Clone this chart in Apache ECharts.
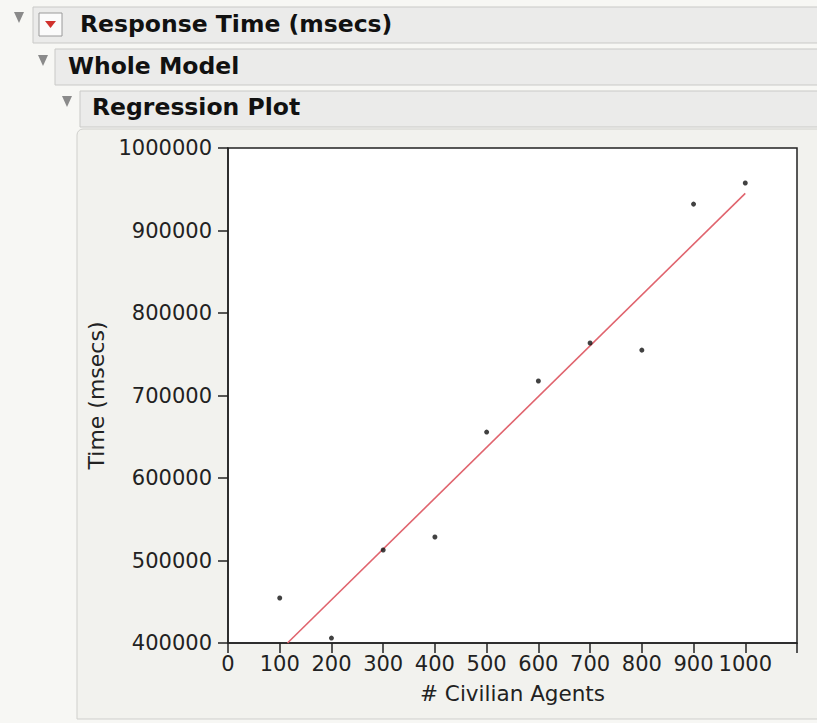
<!DOCTYPE html>
<html>
<head>
<meta charset="utf-8">
<script src="https://cdn.jsdelivr.net/npm/echarts@6/dist/echarts.min.js"></script>
<style>
html,body{margin:0;padding:0;background:#f7f7f4;}
#chart{width:817px;height:723px;}
</style>
</head>
<body>
<div id="chart"></div>
<script>
// Data
var agents = [100, 200, 300, 400, 500, 600, 700, 800, 900, 1000];
var timeMsecs = [454500, 406000, 512700, 528500, 655700, 717600, 763600, 755000, 932000, 957600];
// Fitted regression line endpoints
var fitX = [115, 1000];
var fitY = [400000, 945000];
var xTicks = [0, 100, 200, 300, 400, 500, 600, 700, 800, 900, 1000];
var yTicks = [400000, 500000, 600000, 700000, 800000, 900000, 1000000];
var titles = ['Response Time (msecs)', 'Whole Model', 'Regression Plot'];

var points = agents.map(function (a, i) { return [a, timeMsecs[i]]; });
var fitLine = fitX.map(function (a, i) { return [a, fitY[i]]; });

var chart = echarts.init(document.getElementById('chart'), null, {renderer: 'svg'});

var hdrFont = 'bold 23.5px "DejaVu Sans"';
function bar(x, y, w, h) {
  return {type: 'rect', shape: {x: x, y: y, width: w, height: h},
    style: {fill: '#ebebea', stroke: '#c9c9c7', lineWidth: 1}, z: 0};
}
function tri(cx, cy) {
  return {type: 'polygon', shape: {points: [[cx - 5, cy - 6], [cx + 5, cy - 6], [cx, cy + 5]]},
    style: {fill: '#8a8a8a'}, z: 2};
}
function htext(x, y, t) {
  return {type: 'text', x: x, y: y, style: {text: t, font: hdrFont, fill: '#111', verticalAlign: 'middle', align: 'left'}, z: 3};
}

var option = {
  backgroundColor: '#f7f7f4',
  animation: false,
  graphic: [
    // panel behind the plot
    {type: 'rect', shape: {x: 77, y: 129, width: 745, height: 590, r: [6, 0, 0, 0]},
      style: {fill: '#f2f2ee', stroke: '#cfcfcc', lineWidth: 1}, z: -10},
    bar(33, 7, 790, 36),
    tri(19, 18),
    {type: 'rect', shape: {x: 39, y: 13, width: 23, height: 23}, style: {fill: '#fbfbfb', stroke: '#9a9a9a', lineWidth: 1}, z: 2},
    {type: 'polygon', shape: {points: [[45, 21], [56, 21], [50.5, 28]]}, style: {fill: '#d0312d'}, z: 3},
    htext(80, 24, titles[0]),
    bar(55, 49, 770, 36),
    tri(43, 61),
    htext(68, 66, titles[1]),
    bar(80, 91, 745, 36),
    tri(67, 102),
    htext(92, 107, titles[2])
  ],
  grid: {left: 228, right: 20, top: 148, bottom: 80, show: true,
    backgroundColor: '#ffffff', borderColor: '#222', borderWidth: 1.5},
  xAxis: {
    type: 'value', min: 0, max: 1100, interval: 100,
    name: '# Civilian Agents', nameLocation: 'middle', nameGap: 39,
    nameTextStyle: {fontFamily: 'DejaVu Sans', fontSize: 21.5, color: '#222'},
    axisLine: {show: true, onZero: false, lineStyle: {color: '#222', width: 1.5}},
    axisTick: {show: true, length: 10, lineStyle: {color: '#222', width: 1.5}},
    axisLabel: {fontFamily: 'DejaVu Sans', fontSize: 21, color: '#222', margin: 10,
      formatter: function (v) { return xTicks.indexOf(v) >= 0 ? String(v) : ''; }},
    splitLine: {show: false}
  },
  yAxis: {
    type: 'value', min: 400000, max: 1000000, interval: 100000,
    name: 'Time (msecs)', nameLocation: 'middle', nameGap: 115,
    nameTextStyle: {fontFamily: 'DejaVu Sans', fontSize: 22, color: '#222'},
    axisLine: {show: true, onZero: false, lineStyle: {color: '#222', width: 1.5}},
    axisTick: {show: true, length: 10, lineStyle: {color: '#222', width: 1.5}},
    axisLabel: {fontFamily: 'DejaVu Sans', fontSize: 21, color: '#222', margin: 16,
      formatter: function (v) { return yTicks.indexOf(v) >= 0 ? String(v) : ''; }},
    splitLine: {show: false}
  },
  series: [
    {type: 'line', data: fitLine, symbol: 'none', clip: true,
      lineStyle: {color: '#e0646e', width: 1.6}, z: 2},
    {type: 'scatter', data: points, symbol: 'circle', symbolSize: 5,
      itemStyle: {color: '#111'}, z: 3, clip: false}
  ]
};
chart.setOption(option);
</script>
</body>
</html>
